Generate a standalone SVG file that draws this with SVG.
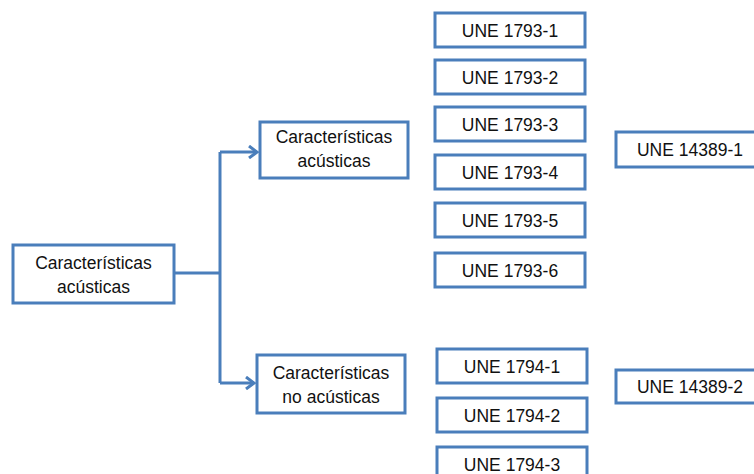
<svg xmlns="http://www.w3.org/2000/svg" width="754" height="474" viewBox="0 0 754 474">
<defs>
<style>
.box{fill:#ffffff;stroke:#4a7ebb;stroke-width:3}
.t{font-family:"Liberation Sans",Arial,sans-serif;font-size:17.5px;fill:#111111;text-anchor:middle}
.c{fill:none;stroke:#4a7ebb;stroke-width:3}
</style>
<marker id="ah" markerWidth="12" markerHeight="14" refX="10" refY="7" orient="auto" markerUnits="userSpaceOnUse">
<path d="M2,1 L10,7 L2,13" fill="none" stroke="#4a7ebb" stroke-width="3"/>
</marker>
</defs>
<rect width="754" height="474" fill="#ffffff"/>
<g id="connectors">
<path class="c" d="M174,273 H220"/>
<path class="c" d="M220,152 V383"/>
<path class="c" d="M220,152 H257" marker-end="url(#ah)"/>
<path class="c" d="M220,383 H254" marker-end="url(#ah)"/>
</g>
<g id="root"><rect class="box" x="13" y="245" width="161" height="58"/><text class="t" x="93.5" y="269">Características</text><text class="t" x="93.5" y="293">acústicas</text></g>
<g id="ac"><rect class="box" x="260" y="122" width="148" height="56"/><text class="t" x="334" y="143">Características</text><text class="t" x="334" y="167">acústicas</text></g>
<g id="noac"><rect class="box" x="257" y="355" width="148" height="58"/><text class="t" x="331" y="379">Características</text><text class="t" x="331" y="403">no acústicas</text></g>
<g id="u1"><rect class="box" x="435" y="13" width="150" height="34"/><text class="t" x="510" y="37">UNE 1793-1</text></g>
<g id="u2"><rect class="box" x="435" y="60" width="150" height="34"/><text class="t" x="510" y="84">UNE 1793-2</text></g>
<g id="u3"><rect class="box" x="435" y="107" width="150" height="34"/><text class="t" x="510" y="131">UNE 1793-3</text></g>
<g id="u4"><rect class="box" x="435" y="155" width="150" height="34"/><text class="t" x="510" y="179">UNE 1793-4</text></g>
<g id="u5"><rect class="box" x="435" y="203" width="150" height="34"/><text class="t" x="510" y="227">UNE 1793-5</text></g>
<g id="u6"><rect class="box" x="435" y="253" width="150" height="34"/><text class="t" x="510" y="277">UNE 1793-6</text></g>
<g id="v1"><rect class="box" x="437" y="349" width="150" height="34"/><text class="t" x="512" y="373">UNE 1794-1</text></g>
<g id="v2"><rect class="box" x="437" y="398" width="150" height="34"/><text class="t" x="512" y="422">UNE 1794-2</text></g>
<g id="v3"><rect class="box" x="437" y="447" width="150" height="34"/><text class="t" x="512" y="471">UNE 1794-3</text></g>
<g id="e1"><rect class="box" x="616" y="132" width="150" height="35"/><text class="t" x="690" y="156">UNE 14389-1</text></g>
<g id="e2"><rect class="box" x="616" y="370" width="150" height="33"/><text class="t" x="690" y="393">UNE 14389-2</text></g>
</svg>
